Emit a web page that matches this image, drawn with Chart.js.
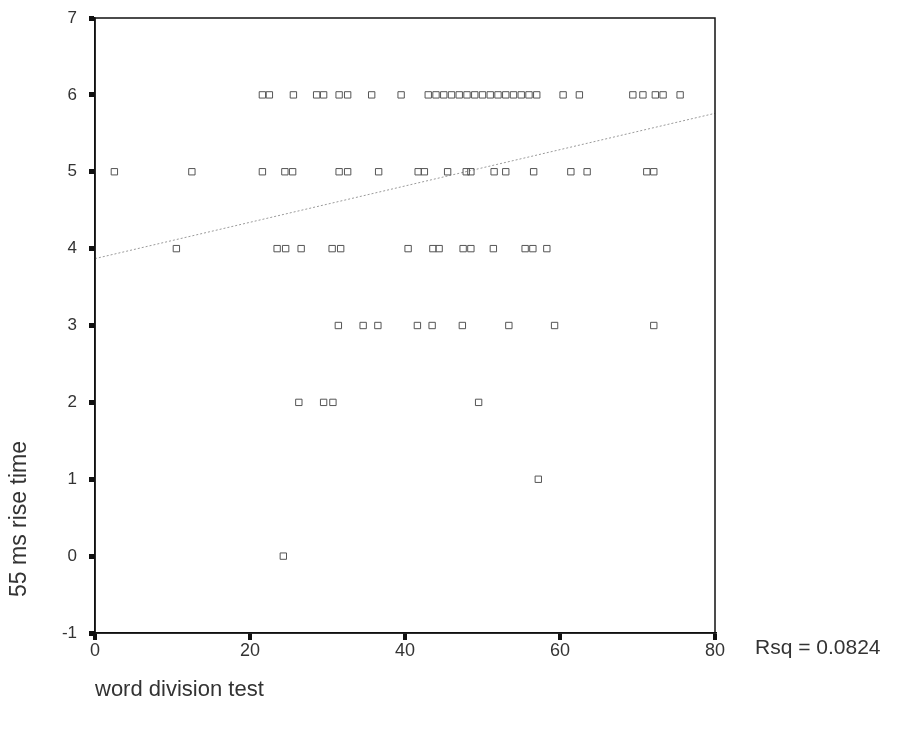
<!DOCTYPE html>
<html>
<head>
<meta charset="utf-8">
<script src="https://cdn.jsdelivr.net/npm/chart.js@4"></script>
<style>
  body { margin: 0; background: #fff; }
  #wrap { width: 898px; height: 734px; position: relative; }
</style>
</head>
<body>
<div id="wrap"><canvas id="chart" width="898" height="734"></canvas></div>
<script>
// word division test scores, grouped by the 55 ms rise time value
const rowLevels = [6, 5, 4, 3, 2, 1, 0];
const x6 = [21.6, 22.5, 25.6, 28.6, 29.5, 31.5, 32.6, 35.7, 39.5,
            43, 44, 45, 46, 47, 48, 49, 50, 51, 52, 53, 54, 55, 56, 57,
            60.4, 62.5, 69.4, 70.7, 72.3, 73.3, 75.5];
const x5 = [2.5, 12.5, 21.6, 24.5, 25.5, 31.5, 32.6, 36.6, 41.7, 42.5,
            45.5, 47.9, 48.5, 51.5, 53, 56.6, 61.4, 63.5, 71.2, 72.1];
const x4 = [10.5, 23.5, 24.6, 26.6, 30.6, 31.7, 40.4, 43.6, 44.4,
            47.5, 48.5, 51.4, 55.5, 56.5, 58.3];
const x3 = [31.4, 34.6, 36.5, 41.6, 43.5, 47.4, 53.4, 59.3, 72.1];
const x2 = [26.3, 29.5, 30.7, 49.5];
const x1 = [57.2];
const x0 = [24.3];

// fit line endpoints
const fitX = [0, 80];
const fitY = [3.87, 5.76];
const rsqText = 'Rsq = 0.0824';

const xTicks = [0, 20, 40, 60, 80];
const yTicks = [-1, 0, 1, 2, 3, 4, 5, 6, 7];

const rows = [x6, x5, x4, x3, x2, x1, x0];
const points = [];
rows.forEach((xs, i) => {
    xs.forEach(x => points.push({ x: x, y: rowLevels[i] }));
});

const textColor = '#333';
const fontFamily = '"Liberation Sans", Arial, sans-serif';

const framePlugin = {
    id: 'frame',
    afterDraw(chart) {
        const ctx = chart.ctx;
        const a = chart.chartArea;
        ctx.save();
        ctx.strokeStyle = '#111';
        ctx.lineWidth = 1.5;
        ctx.strokeRect(a.left, a.top, a.right - a.left, a.bottom - a.top);

        ctx.fillStyle = textColor;
        ctx.font = '22px ' + fontFamily;
        ctx.textBaseline = 'middle';
        ctx.textAlign = 'left';
        ctx.fillText('word division test', 95, 690);

        ctx.font = '21px ' + fontFamily;
        ctx.fillText(rsqText, 755, 648);

        ctx.translate(20, 519);
        ctx.rotate(-Math.PI / 2);
        ctx.textAlign = 'center';
        ctx.font = '23px ' + fontFamily;
        ctx.fillText('55 ms rise time', 0, 0);
        ctx.restore();
    }
};

new Chart(document.getElementById('chart'), {
    type: 'scatter',
    data: {
        datasets: [{
            label: 'scores',
            data: points,
            pointStyle: 'rect',
            pointRadius: 4.5,
            pointBorderWidth: 1,
            pointBorderColor: '#555',
            pointBackgroundColor: 'rgba(0,0,0,0)'
        }, {
            type: 'line',
            label: 'fit',
            data: fitX.map((x, i) => ({ x: x, y: fitY[i] })),
            borderColor: '#9a9a9a',
            borderWidth: 1,
            borderDash: [2, 2],
            pointRadius: 0,
            fill: false
        }]
    },
    options: {
        responsive: false,
        animation: false,
        events: [],
        layout: { padding: { left: 0, right: 183, top: 18, bottom: 0 } },
        plugins: { legend: { display: false }, tooltip: { enabled: false } },
        scales: {
            x: {
                type: 'linear',
                min: 0,
                max: 80,
                afterFit(scale) { scale.height = 101; scale.paddingLeft = 0; scale.paddingRight = 0; },
                afterBuildTicks(scale) { scale.ticks = xTicks.map(v => ({ value: v })); },
                border: { display: true, color: '#111', width: 1.5 },
                grid: { display: true, drawOnChartArea: false, drawTicks: true, tickLength: 7, lineWidth: 4, color: '#111' },
                ticks: { color: textColor, padding: 0, font: { family: fontFamily, size: 18 } }
            },
            y: {
                type: 'linear',
                min: -1,
                max: 7,
                afterFit(scale) { scale.width = 95; scale.paddingTop = 0; scale.paddingBottom = 0; },
                afterBuildTicks(scale) { scale.ticks = yTicks.map(v => ({ value: v })); },
                border: { display: true, color: '#111', width: 1.5 },
                grid: { display: true, drawOnChartArea: false, drawTicks: true, tickLength: 6, lineWidth: 5, color: '#111' },
                ticks: { color: textColor, padding: 12, font: { family: fontFamily, size: 17 } }
            }
        }
    },
    plugins: [framePlugin]
});
</script>
</body>
</html>
